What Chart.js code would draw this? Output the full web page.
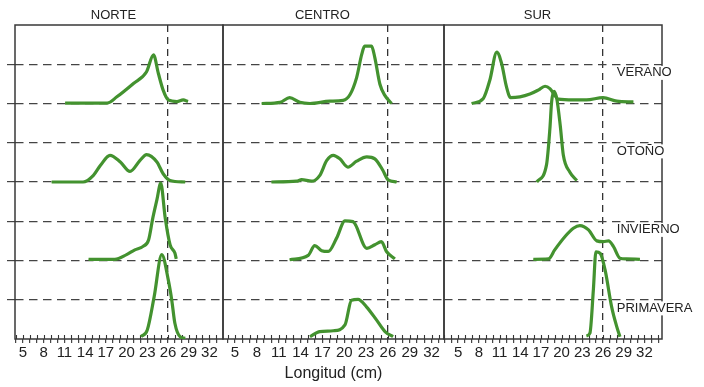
<!DOCTYPE html>
<html>
<head>
<meta charset="utf-8">
<script src="https://cdn.jsdelivr.net/npm/chart.js@4/dist/chart.umd.min.js"></script>
<style>
  html, body { margin: 0; padding: 0; background: #fff; }
  body { width: 704px; height: 387px; position: relative; overflow: hidden; }
  canvas { position: absolute; top: 0; }
</style>
</head>
<body>
<canvas id="norte" width="218" height="387" style="left:7px"></canvas>
<canvas id="centro" width="225" height="387" style="left:221px"></canvas>
<canvas id="sur" width="262" height="387" style="left:442px"></canvas>
<script>
// Seasons, top row to bottom row, and the regions shown as panels
const seasons = ['VERANO', 'OTOÑO', 'INVIERNO', 'PRIMAVERA'];
const regions = ['NORTE', 'CENTRO', 'SUR'];
const xTickLabels = [5, 8, 11, 14, 17, 20, 23, 26, 29, 32];
const referenceLength = 26;

// Length-frequency curves: longitud (cm) and relative frequency
const norteVeranoX = [11.1, 17.2, 18.6, 21.0, 22.9, 23.9, 24.6, 25.3, 26.05, 27.3, 28.2, 28.9];
const norteVeranoY = [0.01, 0.01, 0.17, 0.51, 0.81, 1.24, 0.77, 0.34, 0.09, 0.05, 0.09, 0.05];
const norteOtonoX = [9.15, 13.7, 15.2, 16.2, 17.6, 19.1, 20.5, 21.95, 22.9, 24.4, 25.3, 26.3, 28.5];
const norteOtonoY = [0, 0, 0.17, 0.42, 0.68, 0.51, 0.27, 0.55, 0.7, 0.51, 0.21, 0.04, 0];
const norteInviernoX = [14.5, 18.3, 20.0, 21.2, 22.4, 23.2, 23.8, 24.4, 24.95, 25.6, 26.3, 27.0, 27.2];
const norteInviernoY = [0.03, 0.03, 0.15, 0.27, 0.36, 0.53, 1.08, 1.55, 1.97, 1.08, 0.4, 0.19, 0.04];
const nortePrimaveraX = [22.1, 23.0, 24.0, 25.1, 26.05, 26.55, 27.0, 27.75, 28.5];
const nortePrimaveraY = [0.06, 0.23, 1.08, 2.15, 1.5, 0.99, 0.4, 0.06, 0.02];

const centroVeranoX = [8.66, 11.2, 12.5, 13.9, 15.3, 18.0, 19.85, 20.8, 21.7, 22.4, 22.8, 23.75, 24.2, 24.9, 25.6, 26.5];
const centroVeranoY = [0, 0.03, 0.15, 0.03, 0, 0.06, 0.08, 0.23, 0.66, 1.25, 1.46, 1.46, 1.17, 0.49, 0.2, 0];
const centroOtonoX = [10.0, 13.45, 14.15, 15.5, 16.65, 17.6, 18.5, 19.4, 20.5, 21.7, 23.1, 24.2, 25.3, 26.0, 27.2];
const centroOtonoY = [0, 0.02, 0.06, 0.02, 0.17, 0.55, 0.68, 0.59, 0.38, 0.53, 0.64, 0.59, 0.3, 0.06, 0];
const centroInviernoX = [12.5, 15.05, 15.95, 16.9, 17.8, 18.95, 20.1, 21.2, 23.1, 24.2, 25.1, 25.8, 26.95];
const centroInviernoY = [0.02, 0.13, 0.38, 0.25, 0.23, 0.57, 1.01, 0.99, 0.31, 0.4, 0.48, 0.23, 0.04];
const centroPrimaveraX = [15.3, 16.65, 18.5, 20.1, 21.0, 21.9, 23.05, 24.45, 25.6, 26.7];
const centroPrimaveraY = [0.06, 0.19, 0.21, 0.36, 0.99, 1.01, 0.82, 0.48, 0.19, 0.06];

const surVeranoX = [6.96, 8.65, 9.6, 10.6, 11.3, 12.0, 12.6, 13.95, 15.4, 16.6, 17.6, 18.3, 19.0, 19.5, 21.7, 23.6, 26.0, 28.0, 30.4];
const surVeranoY = [0, 0.13, 0.6, 1.31, 1.02, 0.43, 0.15, 0.17, 0.24, 0.34, 0.44, 0.38, 0.21, 0.11, 0.09, 0.09, 0.15, 0.06, 0.04];
const surOtonoX = [16.4, 17.8, 18.3, 18.55, 18.9, 19.3, 19.8, 20.25, 21.2, 22.2];
const surOtonoY = [0, 0.43, 1.36, 2.04, 2.31, 2.12, 1.44, 0.68, 0.25, 0.04];
const surInviernoX = [15.9, 18.1, 19.0, 20.5, 21.7, 22.65, 23.9, 25.1, 26.05, 26.8, 27.5, 28.45, 29.4, 31.35];
const surInviernoY = [0.03, 0.04, 0.27, 0.61, 0.82, 0.89, 0.78, 0.5, 0.48, 0.5, 0.36, 0.06, 0.04, 0.03];
const surPrimaveraX = [23.6, 24.1, 24.6, 24.97, 25.6, 26.3, 27.25, 28.0, 28.45];
const surPrimaveraY = [0.08, 0.15, 1.25, 2.22, 2.18, 1.76, 0.82, 0.31, 0.06];

const FONT = '"Liberation Sans", Arial, Helvetica, sans-serif';
Chart.defaults.font.family = FONT;

// each season sits on its own baseline, two grid steps apart
const rowBase = [6, 4, 2, 0];

const frameAndTicks = {
  id: 'frameAndTicks',
  beforeDatasetsDraw(chart) {
    const { ctx, chartArea: a, scales: { x } } = chart;
    ctx.save();
    ctx.strokeStyle = '#333';
    ctx.lineWidth = 1.1;
    // upper half of the cross-shaped axis ticks
    x.ticks.forEach(t => {
      const px = Math.round(x.getPixelForValue(t.value)) + 0.5;
      ctx.beginPath();
      ctx.moveTo(px, a.bottom - 4);
      ctx.lineTo(px, a.bottom);
      ctx.stroke();
    });
    ctx.lineWidth = 1.5;
    ctx.strokeStyle = '#383838';
    ctx.strokeRect(a.left, a.top, a.right - a.left, a.bottom - a.top);
    ctx.restore();
  },
  afterDraw(chart, args, opts) {
    const { ctx, scales: { x, y } } = chart;
    ctx.save();
    ctx.fillStyle = '#222';
    ctx.font = '13px ' + FONT;
    ctx.textBaseline = 'middle';
    ctx.textAlign = 'center';
    ctx.fillText(opts.title, x.getPixelForValue(opts.titleAt), 15);
    if (opts.rowLabels) {
      ctx.textAlign = 'left';
      opts.rowLabels.forEach((txt, i) => {
        const px = x.getPixelForValue(opts.rowLabelAt);
        const py = y.getPixelForValue(rowBase[i] + 0.78);
        const w = ctx.measureText(txt).width;
        ctx.fillStyle = '#fff';
        ctx.fillRect(px - 1, py - 7, w + 2, 14);
        ctx.fillStyle = '#222';
        ctx.fillText(txt, px, py);
      });
    }
    ctx.restore();
  }
};

function makePanel(id, cfg) {
  const datasets = [];
  cfg.series.forEach((s, i) => {
    const pts = s[0].map((xv, j) => ({ x: xv, y: rowBase[i] + s[1][j] }));
    const common = { data: pts, pointRadius: 0, fill: false, cubicInterpolationMode: 'monotone' };
    datasets.push(Object.assign({}, common, { borderColor: '#43922f', borderWidth: 3.2 }));
    datasets.push(Object.assign({}, common, { borderColor: '#8dc84a', borderWidth: 1.1 }));
  });

  new Chart(document.getElementById(id), {
    type: 'line',
    data: { datasets },
    plugins: [frameAndTicks],
    options: {
      responsive: false,
      animation: false,
      events: [],
      layout: { padding: { top: 25, right: cfg.rightPad, left: 0, bottom: 0 } },
      plugins: {
        legend: { display: false },
        tooltip: { enabled: false },
        frameAndTicks: {
          title: cfg.title, titleAt: cfg.titleAt,
          rowLabels: cfg.rowLabels, rowLabelAt: 28.0
        }
      },
      scales: {
        x: {
          type: 'linear',
          min: cfg.min, max: cfg.max,
          afterFit: s => { s.height = 48; },
          border: { display: false, dash: [7, 5] },
          grid: {
            color: c => (c.tick && c.tick.value === referenceLength) ? '#333' : 'rgba(0,0,0,0)',
            lineWidth: 1.3,
            tickColor: '#333',
            tickWidth: 1.1,
            tickLength: 4
          },
          ticks: {
            stepSize: 1, maxTicksLimit: 100, includeBounds: false,
            autoSkip: false, maxRotation: 0, minRotation: 0, padding: 1,
            color: '#222', font: { size: 15 },
            callback: v => xTickLabels.includes(v) ? String(v) : ''
          },
          title: {
            display: !!cfg.axisTitle, text: cfg.axisTitle || '',
            color: '#222', font: { size: 16 }, padding: { top: 0, bottom: 4 }
          }
        },
        y: {
          min: 0, max: 8,
          afterFit: s => { s.width = cfg.leftPad; },
          border: { display: false, dash: [8.5, 5.5] },
          grid: {
            color: c => (c.tick && c.tick.value > 0 && c.tick.value < 8) ? '#444' : 'rgba(0,0,0,0)',
            lineWidth: 1.2,
            drawTicks: cfg.leftPad > 4,
            tickLength: 8
          },
          ticks: { display: false, stepSize: 1 }
        }
      }
    }
  });
}

makePanel('norte', {
  title: regions[0], titleAt: 18.1, min: 3.84, max: 33.97, leftPad: 8, rightPad: 2,
  series: [[norteVeranoX, norteVeranoY], [norteOtonoX, norteOtonoY],
           [norteInviernoX, norteInviernoY], [nortePrimaveraX, nortePrimaveraY]]
});
makePanel('centro', {
  title: regions[1], titleAt: 17.0, min: 3.35, max: 33.7, leftPad: 2, rightPad: 2,
  axisTitle: 'Longitud (cm)',
  series: [[centroVeranoX, centroVeranoY], [centroOtonoX, centroOtonoY],
           [centroInviernoX, centroInviernoY], [centroPrimaveraX, centroPrimaveraY]]
});
makePanel('sur', {
  title: regions[2], titleAt: 16.5, min: 2.95, max: 34.55, leftPad: 2, rightPad: 42,
  rowLabels: seasons,
  series: [[surVeranoX, surVeranoY], [surOtonoX, surOtonoY],
           [surInviernoX, surInviernoY], [surPrimaveraX, surPrimaveraY]]
});
</script>
</body>
</html>
